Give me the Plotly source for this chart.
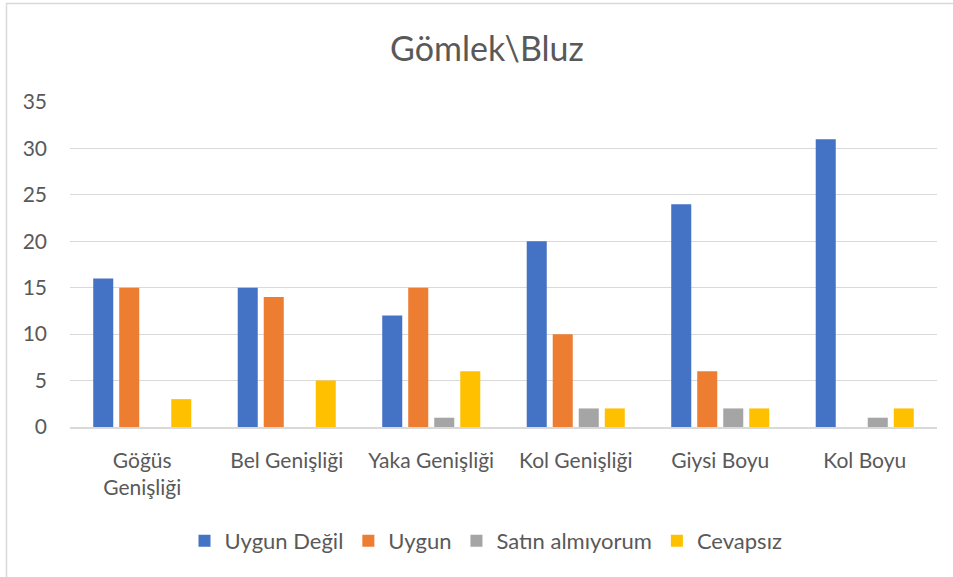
import plotly.graph_objects as go

categories = ["Göğüs<br>Genişliği", "Bel Genişliği", "Yaka Genişliği", "Kol Genişliği", "Giysi Boyu", "Kol Boyu"]
uygun_degil = [16, 15, 12, 20, 24, 31]
uygun = [15, 14, 15, 10, 6, 0]
satin_almiyorum = [0, 0, 1, 2, 2, 1]
cevapsiz = [3, 5, 6, 2, 2, 2]
series_names = ["Uygun Değil", "Uygun", "Satın almıyorum", "Cevapsız"]
colors = ["#4472C4", "#ED7D31", "#A5A5A5", "#FFC000"]
y_ticks = [0, 5, 10, 15, 20, 25, 30, 35]

FONT = "Lato"
TXT = "#595959"

fig = go.Figure()
for name, vals, col in zip(series_names, [uygun_degil, uygun, satin_almiyorum, cevapsiz], colors):
    fig.add_trace(go.Bar(x=categories, y=vals, name=name, marker=dict(color=col, line=dict(width=0))))

W, H = 953, 577
L, R, T, B = 70, 16, 102, 150
pw = W - L - R
ph = H - T - B

fig.update_layout(
    width=W, height=H,
    margin=dict(l=L, r=R, t=T, b=B),
    paper_bgcolor="white", plot_bgcolor="white",
    font=dict(family=FONT, color=TXT, size=21),
    barmode="group", bargap=0.28, bargroupgap=0.23,
    title=dict(text="Gömlek\\Bluz", font=dict(family=FONT, size=34, color=TXT),
               x=(487 - L) / pw, xref="paper", xanchor="center",
               y=1 - 49 / H, yref="container", yanchor="middle"),
    legend=dict(orientation="h", x=(486 - L) / pw, xanchor="center",
                y=(H - B - 541) / ph, yanchor="middle",
                font=dict(family=FONT, size=22, color=TXT),
                itemwidth=30, traceorder="normal"),
    showlegend=True,
)
fig.update_yaxes(range=[0, 35], tickvals=y_ticks, showgrid=True, gridcolor="#D9D9D9", gridwidth=1.3,
                 zeroline=False, showline=False, ticks="", ticklabelstandoff=22,
                 tickfont=dict(family=FONT, size=21, color=TXT), fixedrange=True)
fig.update_xaxes(showgrid=False, showline=True, linecolor="#D9D9D9", linewidth=1.5, ticks="",
                 ticklabelstandoff=14, tickfont=dict(family=FONT, size=21, color=TXT), tickangle=0)

# chart border (outer frame)
fig.add_shape(type="rect", xref="paper", yref="paper",
              x0=(6.5 - L) / pw, x1=1.2, y0=-0.8, y1=(H - B - 3.5) / ph,
              line=dict(color="#D9D9D9", width=1.5), fillcolor="rgba(0,0,0,0)", layer="below")

fig.write_html("out.html",
               config={"displayModeBar": False},
               post_script="document.body.style.margin='0';document.body.style.overflow='hidden';")
